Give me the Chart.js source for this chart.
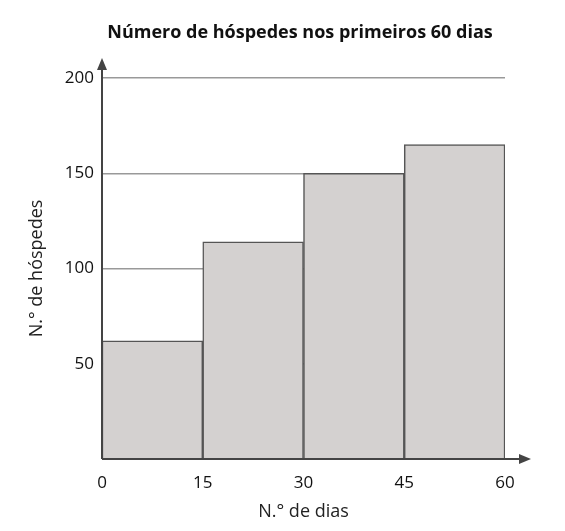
<!DOCTYPE html>
<html><head><meta charset="utf-8">
<script src="https://cdn.jsdelivr.net/npm/chart.js"></script>
<style>html,body{margin:0;background:#fff}#wrap{width:565px;height:531px}</style>
</head><body><div id="wrap"><canvas id="c"></canvas></div>
<script>
const binStarts = [0, 15, 30, 45];
const binWidth = 15;
const guests = [62, 114, 150, 165];
const xTicks = [0, 15, 30, 45, 60];
const titleText = 'Número de hóspedes nos primeiros 60 dias';

const font = "'Open Sans', sans-serif";

// title centred on the page, axis lines with arrow heads
const extras = {
  id: 'extras',
  afterDraw(chart) {
    const { ctx, chartArea: a } = chart;
    ctx.save();
    ctx.font = "bold 18px 'Open Sans', sans-serif";
    ctx.fillStyle = '#111'; ctx.textAlign = 'center'; ctx.textBaseline = 'middle';
    ctx.fillText(titleText, 300, 33);
    ctx.strokeStyle = '#444'; ctx.fillStyle = '#444'; ctx.lineWidth = 2;
    ctx.beginPath();
    ctx.moveTo(a.left, a.bottom); ctx.lineTo(a.left, a.top - 12);
    ctx.moveTo(a.left, a.bottom); ctx.lineTo(a.right + 18, a.bottom);
    ctx.stroke();
    ctx.beginPath();
    ctx.moveTo(a.left, a.top - 20); ctx.lineTo(a.left - 5, a.top - 8); ctx.lineTo(a.left + 5, a.top - 8);
    ctx.fill();
    ctx.beginPath();
    ctx.moveTo(a.right + 26, a.bottom); ctx.lineTo(a.right + 14, a.bottom - 5); ctx.lineTo(a.right + 14, a.bottom + 5);
    ctx.fill();
    ctx.restore();
  }
};

new Chart(document.getElementById('c'), {
  type: 'bar',
  data: {
    datasets: [{
      data: binStarts.map((s, i) => ({ x: s + binWidth / 2, y: guests[i] })),
      backgroundColor: '#d4d1d0',
      borderColor: '#555',
      borderWidth: 1.5,
      barPercentage: 1,
      categoryPercentage: 1
    }]
  },
  options: {
    responsive: true, maintainAspectRatio: false, animation: false,
    layout: { padding: { left: 22, right: 60, top: 78, bottom: 4 } },
    plugins: { legend: { display: false }, tooltip: { enabled: false } },
    scales: {
      x: {
        type: 'linear', min: 0, max: 60, offset: false,
        afterBuildTicks: s => { s.ticks = xTicks.map(v => ({ value: v })); },
        grid: { display: false }, border: { display: false },
        ticks: { font: { family: font, size: 17 }, color: '#111', padding: 6 },
        title: { display: true, text: 'N.° de dias', font: { family: font, size: 18 }, color: '#222', padding: { top: 2 } }
      },
      y: {
        min: 0, max: 200,
        ticks: { stepSize: 50, font: { family: font, size: 17 }, color: '#111', padding: 8,
          callback: v => v === 0 ? '' : v },
        grid: { color: '#999', lineWidth: 1.5, drawTicks: false }, border: { display: false },
        title: { display: true, text: 'N.° de hóspedes', font: { family: font, size: 18 }, color: '#222' },
        afterFit: s => { s.width = 80; }
      }
    }
  },
  plugins: [extras]
});
</script></body></html>
